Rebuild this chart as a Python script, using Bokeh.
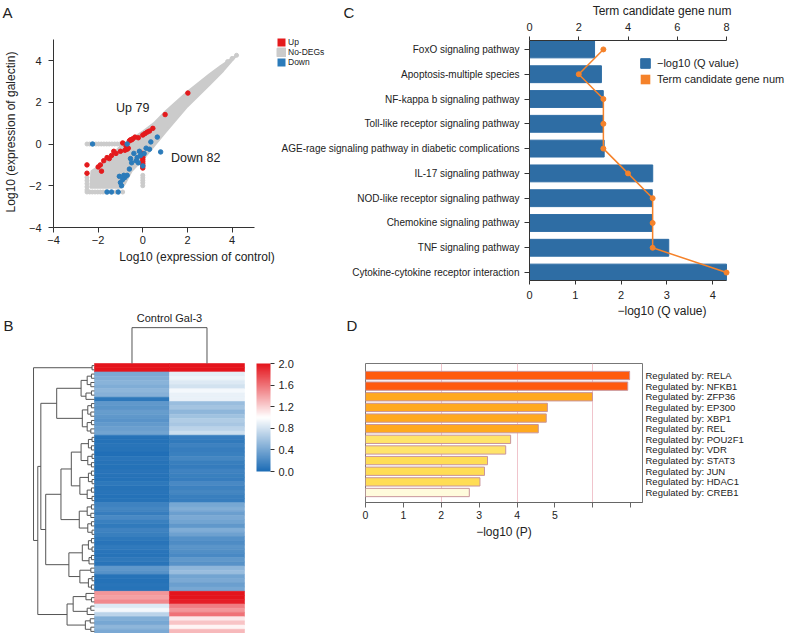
from bokeh.plotting import figure
from bokeh.layouts import column, row
from bokeh.models import (Range1d, LinearAxis, FixedTicker, Legend, LegendItem, ColorBar,
                          LinearColorMapper, PrintfTickFormatter, ColumnDataSource)
from bokeh.embed import file_html
from bokeh.resources import INLINE
from bokeh.core.properties import value

FONT = "Liberation Sans"
TXT = "#222222"

# ---------------- Panel A data (scatter) ----------------
up_count = 79
down_count = 82
up_x = [2.02, 1.0, 0.2, 0.1, 0.0, -0.2, -0.35, -0.5, -0.6, -0.65, -0.7, -0.8, -0.9, -1.0, -1.3, -1.4,
        -1.6, -1.75, -1.9, -2.0, -1.85, -2.5, -2.5, 0.0, 0.0, 0.0, 0.0, 0.0, 0.0, 0.0, 0.0, -0.45,
        -0.55, -0.75, 0.3, -1.2, -1.5, 0.45]
up_y = [2.44, 1.41, 0.57, 0.5, 0.43, 0.3, 0.33, 0.2, 0.15, -0.2, -0.25, -0.3, 0.05, -0.35, -0.35, -0.55,
        -0.65, -0.8, -1.0, -1.1, -1.3, -1.0, -1.4, -0.45, -0.55, -0.65, -0.75, -0.85, -0.95, -1.05, -1.15, 0.25,
        0.2, -0.1, 0.62, -0.45, -0.7, 0.75]
down_x = [0.65, 0.8, 0.36, 0.3, 0.06, -0.1, -0.25, -0.3, -0.2, 0.0, -0.5, -0.55, -0.7, -0.8, -0.85, -1.05,
          -0.95, -0.7, -2.25, -1.6, -1.4, -1.1, -1.0, -0.4, -0.15, 0.15, -0.6, -0.9]
down_y = [0.33, -0.38, 0.1, -0.25, -0.46, -0.55, -0.65, -0.8, -0.9, -1.05, -0.9, -0.7, -1.5, -1.6, -1.5, -1.55,
          -2.0, 0.0, 0.0, -2.3, -2.3, -2.3, -1.85, -0.45, -0.35, -0.2, -1.2, -1.7]
cloud_x = [4.2, 3.5, 3.0, 2.0, 1.0, 0.5, 0.0, -0.5, -1.0, -1.5, -2.0, -2.3, -2.35, -1.0, -0.8, -0.5,
           0.0, 0.5, 1.0, 2.0, 3.0, 3.6, 4.2]
cloud_y = [4.25, 3.75, 3.35, 2.5, 1.55, 1.0, 0.6, 0.25, -0.1, -0.65, -1.1, -1.3, -2.1, -2.1, -1.9, -1.3,
           -0.75, -0.1, 0.55, 1.8, 2.85, 3.5, 4.25]
grey_x = [-2.5, -2.38, -2.1, -1.98, -1.86, -1.74, -1.62, -1.5, -1.38, -1.26, -1.14, -1.02,
          -2.5, -2.38, -2.26, -2.14, -2.02, -1.9, -1.78, -1.66, -1.2, -0.9,
          -2.5, -2.5, -2.5, -2.5, -2.5, 0.0, 0.0, 0.0, 0.0, 0.0, 3.8, 4.0, 4.2]
grey_y = [0.0, 0.0, 0.0, 0.0, 0.0, 0.0, 0.0, 0.0, 0.0, 0.0, 0.0, 0.0,
          -2.3, -2.3, -2.3, -2.3, -2.3, -2.3, -2.3, -2.3, -2.3, -2.3,
          -1.6, -1.75, -1.9, -2.05, -2.2, -1.5, -1.62, -1.74, -1.86, -2.0, 3.95, 4.1, 4.25]
a_ticks = [-4, -2, 0, 2, 4]

# ---------------- Panel B data (heatmap) ----------------
heat_columns = ["Control", "Gal-3"]
ctrl_vals = [2.0, 2.0,
             0.42, 0.45, 0.48, 0.44, 0.50, 0.47,
             0.08,
             0.30, 0.28, 0.33, 0.30, 0.27, 0.32, 0.35, 0.38,
             0.05, 0.04, 0.06, 0.05, 0.03, 0.07, 0.05, 0.04, 0.06, 0.05, 0.04, 0.08, 0.05, 0.06, 0.04, 0.05,
             0.15, 0.18, 0.12, 0.20, 0.14, 0.10, 0.16, 0.13,
             0.08, 0.06, 0.10, 0.07, 0.05, 0.09, 0.06,
             0.30, 0.26,
             0.05, 0.04, 0.06, 0.05,
             1.45, 1.40, 1.50,
             0.85, 0.95, 0.70,
             0.45, 0.40, 0.50, 0.42]
gal3_vals = [2.0, 2.0,
             0.88, 0.92, 0.85, 0.80, 0.95, 0.90,
             0.90,
             0.55, 0.60, 0.50, 0.58, 0.65, 0.62, 0.70, 0.78,
             0.12, 0.10, 0.15, 0.12, 0.14, 0.18, 0.13, 0.11, 0.16, 0.14, 0.12, 0.20, 0.15, 0.18, 0.13, 0.12,
             0.40, 0.45, 0.35, 0.42, 0.38, 0.30, 0.44, 0.36,
             0.25, 0.22, 0.28, 0.24, 0.20, 0.30, 0.26,
             0.50, 0.55,
             0.38, 0.42, 0.35, 0.40,
             2.0, 2.0, 1.95,
             1.55, 1.45, 1.60,
             1.10, 1.25, 1.05, 1.30]
row_tree = ("((0,1)4,((((((2,3)5,(4,5)6)12,((6,7)5,8)14)22,(((9,10)5,(11,12)6)11,((13,14)5,(15,16)6)12)20)62,"
            "((((((17,18)4,(19,20)5)10,((21,22)4,(23,24)5)11)22,(((25,26)5,(27,28)4)10,((29,30)5,(31,32)4)12)24)38,"
            "(((33,34)5,(35,36)6)12,((37,38)5,(39,40)4)11)25)55,"
            "((((41,42)5,(43,44)4)10,((45,46)5,47)9)20,((48,49)6,((50,51)4,(52,53)5)10)24)42)80)88,"
            "(((54,(55,56)5)14,((57,58)6,59)12)35,((60,61)7,(62,63)6)15)45)93)100")
col_tree_height = 100
cbar_ticks = [0.0, 0.4, 0.8, 1.2, 1.6, 2.0]

# ---------------- Panel C data ----------------
pathways = ["FoxO signaling pathway", "Apoptosis-multiple species", "NF-kappa b signaling pathway",
            "Toll-like receptor signaling pathway", "AGE-rage signaling pathway in diabetic complications",
            "IL-17 signaling pathway", "NOD-like receptor signaling pathway", "Chemokine signaling pathway",
            "TNF signaling pathway", "Cytokine-cytokine receptor interaction"]
neg_log_q = [1.42, 1.57, 1.61, 1.61, 1.63, 2.69, 2.68, 2.68, 3.04, 4.30]
gene_num = [3, 2, 3, 3, 3, 4, 5, 5, 5, 8]
c_bottom_ticks = [0, 1, 2, 3, 4]
c_top_ticks = [0, 2, 4, 6, 8]

# ---------------- Panel D data ----------------
regulators = ["RELA", "NFKB1", "ZFP36", "EP300", "XBP1", "REL", "POU2F1", "VDR", "STAT3", "JUN", "HDAC1", "CREB1"]
neg_log_p = [6.97, 6.92, 5.99, 4.80, 4.77, 4.56, 3.83, 3.70, 3.22, 3.14, 3.02, 2.74]
reg_colors = ["#ff5a0e", "#ff5a0e", "#ffa91f", "#ffa91f", "#ffa91f", "#ffa91f",
              "#ffe46a", "#ffe46a", "#ffdd55", "#ffdd55", "#ffdd55", "#fffbdc"]
d_ticks = [0, 1, 2, 3, 4, 5, 6, 7]
d_labelled = [0, 1, 2, 3, 4, 5]
d_grid = [2, 4, 6]

# panel letters
panel_letters = ["A", "B", "C", "D"]

RED = "#e41a1c"
BLUE_PT = "#2b7bba"
GREY = "#cbcbcb"
BAR_BLUE = "#2e6da4"
ORANGE = "#f5822a"


def free(p):
    try:
        p.frame_align = False
    except Exception:
        pass
    p.background_fill_alpha = 0
    p.border_fill_alpha = 0


def style_axis(ax, size="11px", color="#333333", tick=5):
    ax.axis_line_color = color
    ax.major_tick_line_color = color
    ax.minor_tick_line_color = None
    ax.major_tick_in = 0
    ax.major_tick_out = tick
    ax.major_label_text_font = FONT
    ax.major_label_text_font_size = size
    ax.major_label_text_color = TXT
    ax.axis_label_text_font = FONT
    ax.axis_label_text_font_style = "normal"
    ax.axis_label_text_font_size = "12px"
    ax.axis_label_text_color = TXT


# ======================= A =======================
a = figure(width=340, height=320, x_range=Range1d(-4, 8.857), y_range=Range1d(-4, 5.15),
           output_backend="svg", toolbar_location=None,
           min_border_left=52, min_border_right=0, min_border_top=36, min_border_bottom=93)
free(a)
a.grid.visible = False
a.outline_line_color = None
for ax in (a.xaxis[0], a.yaxis[0]):
    style_axis(ax, "11px", "#333333", 5)
    ax.ticker = FixedTicker(ticks=a_ticks)
    ax.major_label_overrides = {t: ("−%d" % -t if t < 0 else str(t)) for t in a_ticks}
a.xaxis.bounds = (-4, 5)
a.yaxis.bounds = (-4, 5)
a.xaxis.axis_label = "Log10 (expression of control)"
a.yaxis.axis_label = "Log10 (expression of galectin)"
a.xaxis.major_label_standoff = 3
a.xaxis.axis_label_standoff = 3
a.yaxis.major_label_standoff = 7
a.yaxis.axis_label_standoff = 8
r_no = a.patch(cloud_x, cloud_y, fill_color=GREY, line_color=GREY, line_width=2)
a.scatter(grey_x, grey_y, size=4, color=GREY)
a.scatter(up_x, up_y, size=4.5, color=RED)
a.scatter(down_x, down_y, size=4.5, color=BLUE_PT)
# zero-size rects carry the legend swatches (square keys)
k_up = a.rect(up_x, up_y, width=0, height=0, fill_color=RED, line_color=None)
k_dn = a.rect(down_x, down_y, width=0, height=0, fill_color=BLUE_PT, line_color=None)
a.text(x=[-0.45, 2.37], y=[1.72, -0.67], text=["Up %d" % up_count, "Down %d" % down_count],
       text_font=value(FONT), text_font_size="12.5px", text_color=TXT,
       text_align="center", text_baseline="middle")
leg_a = Legend(items=[LegendItem(label="Up", renderers=[k_up]),
                      LegendItem(label="No-DEGs", renderers=[r_no]),
                      LegendItem(label="Down", renderers=[k_dn])],
               location=(223, 160), glyph_width=10, glyph_height=10, label_height=9,
               label_text_font=FONT, label_text_font_size="8.5px", label_text_color=TXT,
               label_standoff=2, spacing=0, padding=0, margin=0,
               border_line_color=None, background_fill_alpha=0)
a.add_layout(leg_a)

# ======================= C =======================
n_c = len(pathways)
c_idx = list(range(n_c))
c = figure(width=540, height=320, x_range=Range1d(0, 5.785), y_range=Range1d(9.32, -0.36),
           output_backend="svg", toolbar_location=None,
           min_border_left=275, min_border_right=0, min_border_top=39, min_border_bottom=39)
free(c)
c.margin = (0, 0, 0, -86)
c.extra_x_ranges = {"genes": Range1d(0, 10.76)}
c.grid.visible = False
c.outline_line_color = None
bars = c.hbar(y=c_idx, left=0, right=neg_log_q, height=0.68, fill_color=BAR_BLUE, line_color=BAR_BLUE)
c.line(gene_num, c_idx, x_range_name="genes", line_color=ORANGE, line_width=1.5)
c.scatter(gene_num, c_idx, x_range_name="genes", size=5, color=ORANGE)
k_gene = c.hbar(y=c_idx, left=0, right=gene_num, height=0, x_range_name="genes",
                fill_color=ORANGE, line_color=None)
style_axis(c.xaxis[0], "11px", "#333333", 4)
c.xaxis.ticker = FixedTicker(ticks=c_bottom_ticks)
c.xaxis.bounds = (0, 4.3)
c.xaxis.axis_label = "−log10 (Q value)"
c.xaxis.major_label_standoff = 6
c.xaxis.axis_label_standoff = 2
style_axis(c.yaxis[0], "10px", "#333333", 5)
c.yaxis.ticker = FixedTicker(ticks=c_idx)
c.yaxis.major_label_overrides = {i: name for i, name in zip(c_idx, pathways)}
c.yaxis.major_label_standoff = 5
top_axis = LinearAxis(x_range_name="genes", ticker=FixedTicker(ticks=c_top_ticks),
                      axis_label="Term candidate gene num", bounds=(0, 8))
style_axis(top_axis, "11px", "#333333", 4)
top_axis.major_label_standoff = 6
top_axis.axis_label_standoff = 2
c.add_layout(top_axis, "above")
leg_c = Legend(items=[LegendItem(label="−log10 (Q value)", renderers=[bars]),
                      LegendItem(label="Term candidate gene num", renderers=[k_gene])],
               location=(110, 195), glyph_width=12, glyph_height=12, label_height=12,
               label_text_font=FONT, label_text_font_size="11px", label_text_color=TXT,
               label_standoff=6, spacing=4, padding=0, margin=0,
               border_line_color=None, background_fill_alpha=0)
c.add_layout(leg_c)

# ======================= B =======================
n_rows = len(ctrl_vals)
b = figure(width=340, height=325, x_range=Range1d(-1.2533, 3.28), y_range=Range1d(0, 77.04),
           output_backend="svg", toolbar_location=None,
           min_border_left=0, min_border_right=0, min_border_top=0, min_border_bottom=0)
free(b)
b.axis.visible = False
b.grid.visible = False
b.outline_line_color = None


def lerp_hex(c1, c2, t):
    r1, g1, b1 = int(c1[1:3], 16), int(c1[3:5], 16), int(c1[5:7], 16)
    r2, g2, b2 = int(c2[1:3], 16), int(c2[3:5], 16), int(c2[5:7], 16)
    return "#%02x%02x%02x" % (round(r1 + (r2 - r1) * t), round(g1 + (g2 - g1) * t), round(b1 + (b2 - b1) * t))


palette = [lerp_hex("#1c6cb5", "#ffffff", i / 127) for i in range(128)] + \
          [lerp_hex("#ffffff", "#e4141c", i / 127) for i in range(128)]
mapper = LinearColorMapper(palette=palette, low=0, high=2)

hx, hy, hv = [], [], []
for j, vals in enumerate([ctrl_vals, gal3_vals]):
    for i, v in enumerate(vals):
        hx.append(j + 0.5)
        hy.append(n_rows - i - 0.5)
        hv.append(v)
hsrc = ColumnDataSource(dict(x=hx, y=hy, v=hv))
b.rect(x="x", y="y", width=1, height=1, source=hsrc,
       fill_color={"field": "v", "transform": mapper},
       line_color={"field": "v", "transform": mapper}, line_width=0.6)


def parse_tree(s):
    pos = 0

    def number():
        nonlocal pos
        st = pos
        while pos < len(s) and (s[pos].isdigit() or s[pos] == "."):
            pos += 1
        return float(s[st:pos])

    def node():
        nonlocal pos
        if s[pos] == "(":
            pos += 1
            kids = [node()]
            while s[pos] == ",":
                pos += 1
                kids.append(node())
            pos += 1
            return (number(), kids)
        return int(number())

    return node()


DENDRO_SCALE = 0.00813
sx0, sy0, sx1, sy1 = [], [], [], []


def place(n):
    if isinstance(n, int):
        return n_rows - n - 0.5, 0.0
    h, kids = n
    pts = [place(k) for k in kids]
    xn = -h * DENDRO_SCALE
    for yk, hk in pts:
        sx0.append(xn); sy0.append(yk); sx1.append(-hk * DENDRO_SCALE); sy1.append(yk)
    ys = [p[0] for p in pts]
    sx0.append(xn); sy0.append(min(ys)); sx1.append(xn); sy1.append(max(ys))
    return (min(ys) + max(ys)) / 2, h


place(parse_tree(row_tree))
COL_SCALE = 0.085
ch = n_rows + col_tree_height * COL_SCALE
sx0 += [0.5, 1.5, 0.5]
sy0 += [n_rows, n_rows, ch]
sx1 += [0.5, 1.5, 1.5]
sy1 += [ch, ch, ch]
b.segment(x0=sx0, y0=sy0, x1=sx1, y1=sy1, line_color="#555555", line_width=1)
b.text(x=[1.0], y=[74.9], text=[" ".join(heat_columns)], text_font=value(FONT), text_font_size="11px",
       text_color=TXT, text_align="center", text_baseline="middle")
cbar = ColorBar(color_mapper=mapper, location=(256, 162), width=14, height=108, padding=0, margin=0,
                ticker=FixedTicker(ticks=cbar_ticks), formatter=PrintfTickFormatter(format="%.1f"),
                major_tick_in=0, major_tick_out=4, major_tick_line_color="#333333",
                minor_tick_line_color=None, bar_line_color=None, border_line_color=None,
                background_fill_alpha=0, label_standoff=4,
                major_label_text_font=FONT, major_label_text_font_size="11px",
                major_label_text_color=TXT)
b.add_layout(cbar)

# ======================= D =======================
n_d = len(regulators)
d_idx = list(range(n_d))
d = figure(width=454, height=325, x_range=Range1d(0, 7.31), y_range=Range1d(11.94, -1.13),
           output_backend="svg", toolbar_location=None, y_axis_location="right",
           min_border_left=25, min_border_right=152, min_border_top=55, min_border_bottom=131)
free(d)
d.outline_line_color = "#777777"
d.ygrid.visible = False
d.xgrid.ticker = FixedTicker(ticks=d_grid)
d.xgrid.grid_line_color = "#f0c4cc"
d.hbar(y=d_idx, left=0, right=neg_log_p, height=0.78, fill_color=reg_colors,
       line_color="#c9959b", line_width=1)
style_axis(d.xaxis[0], "10.5px", "#666666", 5)
d.xaxis.ticker = FixedTicker(ticks=d_ticks)
d.xaxis.major_label_overrides = {t: (str(t) if t in d_labelled else "") for t in d_ticks}
d.xaxis.axis_label = "−log10 (P)"
d.xaxis.major_label_standoff = 3
d.xaxis.axis_label_standoff = 3
style_axis(d.yaxis[0], "9.5px", "#666666", 0)
d.yaxis.axis_line_color = None
d.yaxis.major_tick_line_color = None
d.yaxis.ticker = FixedTicker(ticks=d_idx)
d.yaxis.major_label_overrides = {i: "Regulated by: " + r for i, r in zip(d_idx, regulators)}
d.yaxis.major_label_standoff = 3

top_row = row(a, c)
bottom_row = row(b, d)
bottom_row.margin = (-12, 0, 0, 0)

# transparent page-sized layer carrying the panel letters
lay = figure(width=794, height=633, x_range=Range1d(0, 794), y_range=Range1d(633, 0),
             output_backend="svg", toolbar_location=None,
             min_border_left=0, min_border_right=0, min_border_top=0, min_border_bottom=0)
free(lay)
lay.axis.visible = False
lay.grid.visible = False
lay.outline_line_color = None
lay.text(x=[2, 3, 343, 346], y=[12, 325, 12, 325], text=panel_letters, text_font=value(FONT),
         text_font_size="15px", text_color=TXT, text_align="left", text_baseline="middle")
lay.margin = (-633, 0, 0, 0)

layout = column(top_row, bottom_row, lay)
open("out.html", "w").write(file_html(layout, INLINE))
